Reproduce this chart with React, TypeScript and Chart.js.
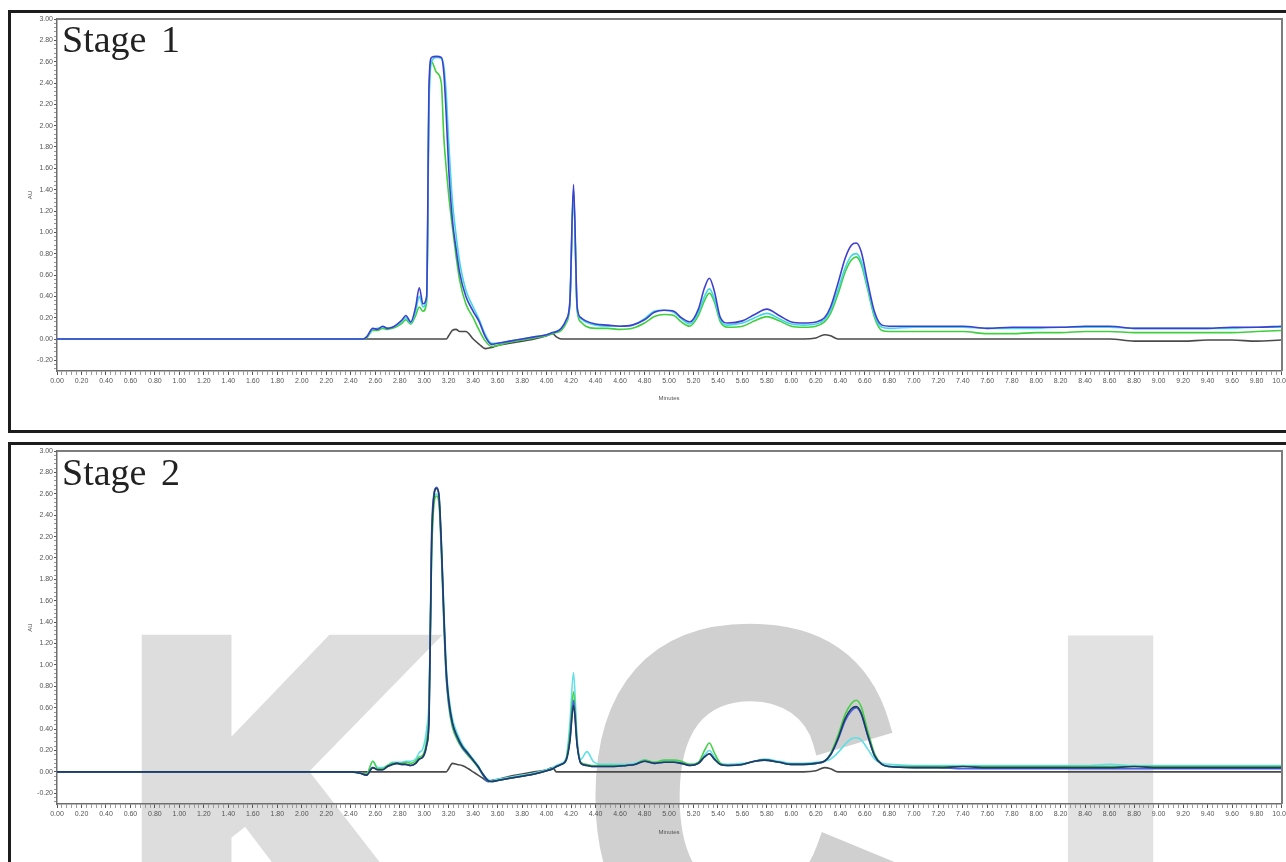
import React, { useEffect, useRef } from "react";
import { Chart, registerables } from "chart.js";

Chart.register(...registerables);

// ---------- axis tick labels ----------
const X_MAJOR = [
  0, 0.2, 0.4, 0.6, 0.8, 1.0, 1.2, 1.4, 1.6, 1.8, 2.0, 2.2, 2.4, 2.6, 2.8, 3.0, 3.2,
  3.4, 3.6, 3.8, 4.0, 4.2, 4.4, 4.6, 4.8, 5.0, 5.2, 5.4, 5.6, 5.8, 6.0, 6.2, 6.4,
  6.6, 6.8, 7.0, 7.2, 7.4, 7.6, 7.8, 8.0, 8.2, 8.4, 8.6, 8.8, 9.0, 9.2, 9.4, 9.6,
  9.8, 10.0,
];
const Y_MAJOR = [
  -0.2, 0, 0.2, 0.4, 0.6, 0.8, 1.0, 1.2, 1.4, 1.6, 1.8, 2.0, 2.2, 2.4, 2.6, 2.8, 3.0,
];

// ---------- Stage 1 ----------
const stage1Times = [
  0, 2.50, 2.53, 2.58, 2.62, 2.66, 2.70, 2.74, 2.78, 2.82,
  2.85, 2.89, 2.93, 2.96, 2.99, 3.02, 3.04, 3.06, 3.10, 3.14,
  3.16, 3.18, 3.20, 3.23, 3.26, 3.29, 3.34, 3.40, 3.45, 3.50,
  3.55, 3.60, 3.70, 3.80, 3.90, 4.00, 4.05, 4.08, 4.12, 4.16,
  4.19, 4.22, 4.25, 4.28, 4.32, 4.40, 4.50, 4.60, 4.70, 4.80,
  4.88, 4.96, 5.04, 5.10, 5.17, 5.24, 5.29, 5.33, 5.37, 5.42,
  5.48, 5.60, 5.70, 5.80, 5.90, 6.00, 6.10, 6.20, 6.27, 6.32,
  6.38, 6.44, 6.49, 6.53, 6.57, 6.62, 6.68, 6.74, 6.80, 7.00,
  7.20, 7.40, 7.60, 7.80, 8.00, 8.20, 8.40, 8.60, 8.80, 9.00,
  9.20, 9.40, 9.60, 9.80, 10.00,
];
const stage1Blue = [
  0, 0, 0.02, 0.10, 0.09, 0.12, 0.10, 0.11, 0.14, 0.18,
  0.22, 0.16, 0.30, 0.48, 0.33, 0.40, 2.40, 2.64, 2.65, 2.64,
  2.50, 2.10, 1.60, 1.12, 0.85, 0.62, 0.40, 0.26, 0.16, 0.02,
  -0.05, -0.04, -0.02, 0.00, 0.02, 0.04, 0.06, 0.07, 0.10, 0.18,
  0.35, 1.45, 0.30, 0.20, 0.17, 0.14, 0.13, 0.12, 0.13, 0.18,
  0.25, 0.27, 0.26, 0.20, 0.16, 0.28, 0.48, 0.57, 0.45, 0.20,
  0.15, 0.17, 0.23, 0.28, 0.22, 0.16, 0.15, 0.16, 0.20, 0.30,
  0.52, 0.76, 0.88, 0.90, 0.82, 0.55, 0.25, 0.13, 0.12, 0.12,
  0.12, 0.12, 0.10, 0.11, 0.11, 0.11, 0.12, 0.12, 0.10, 0.10,
  0.10, 0.10, 0.11, 0.11, 0.12,
];
const stage1Cyan = [
  0, 0, 0.02, 0.09, 0.10, 0.11, 0.10, 0.11, 0.13, 0.17,
  0.20, 0.15, 0.26, 0.40, 0.30, 0.38, 2.20, 2.60, 2.64, 2.63,
  2.56, 2.30, 1.85, 1.30, 0.98, 0.72, 0.46, 0.30, 0.18, 0.04,
  -0.04, -0.04, -0.02, 0.00, 0.02, 0.04, 0.06, 0.07, 0.10, 0.17,
  0.33, 1.40, 0.28, 0.19, 0.16, 0.13, 0.12, 0.12, 0.13, 0.19,
  0.26, 0.27, 0.25, 0.19, 0.14, 0.25, 0.40, 0.47, 0.38, 0.18,
  0.13, 0.15, 0.20, 0.24, 0.19, 0.14, 0.13, 0.14, 0.18, 0.27,
  0.46, 0.67, 0.78, 0.80, 0.73, 0.50, 0.22, 0.11, 0.10, 0.11,
  0.11, 0.11, 0.10, 0.10, 0.10, 0.11, 0.11, 0.11, 0.10, 0.10,
  0.10, 0.10, 0.10, 0.11, 0.11,
];
const stage1Green = [
  0, 0, 0.01, 0.08, 0.08, 0.10, 0.09, 0.10, 0.12, 0.15,
  0.18, 0.14, 0.22, 0.30, 0.26, 0.35, 2.30, 2.60, 2.50, 2.40,
  1.90, 1.60, 1.35, 1.05, 0.78, 0.55, 0.33, 0.20, 0.08, -0.02,
  -0.07, -0.06, -0.03, -0.01, 0.01, 0.03, 0.05, 0.06, 0.08, 0.15,
  0.32, 1.38, 0.26, 0.16, 0.12, 0.10, 0.10, 0.09, 0.10, 0.15,
  0.21, 0.23, 0.22, 0.16, 0.12, 0.22, 0.36, 0.43, 0.35, 0.16,
  0.11, 0.12, 0.17, 0.21, 0.17, 0.12, 0.11, 0.12, 0.16, 0.24,
  0.42, 0.63, 0.74, 0.77, 0.70, 0.48, 0.20, 0.08, 0.07, 0.07,
  0.07, 0.07, 0.05, 0.05, 0.06, 0.06, 0.07, 0.07, 0.06, 0.06,
  0.06, 0.06, 0.06, 0.07, 0.08,
];
const stage1Blank = [
  0, 0, 0, 0, 0, 0, 0, 0, 0, 0,
  0, 0, 0, 0, 0, 0, 0, 0, 0, 0,
  0, 0, 0.03, 0.08, 0.09, 0.07, 0.07, 0.00, -0.05, -0.09,
  -0.08, -0.06, -0.04, -0.02, 0.00, 0.03, 0.05, 0.02, 0, 0,
  0, 0, 0, 0, 0, 0, 0, 0, 0, 0,
  0, 0, 0, 0, 0, 0, 0, 0, 0, 0,
  0, 0, 0, 0, 0, 0, 0, 0.01, 0.04, 0.03,
  0, 0, 0, 0, 0, 0, 0, 0, 0, 0,
  0, 0, 0, 0, 0, 0, 0, 0, -0.02, -0.02,
  -0.02, -0.01, -0.01, -0.02, -0.01,
];

// ---------- Stage 2 ----------
const stage2Times = [
  0, 2.40, 2.47, 2.53, 2.58, 2.62, 2.66, 2.70, 2.74, 2.78,
  2.82, 2.85, 2.89, 2.93, 2.96, 2.99, 3.02, 3.04, 3.06, 3.08,
  3.10, 3.12, 3.14, 3.16, 3.18, 3.20, 3.23, 3.27, 3.31, 3.36,
  3.40, 3.44, 3.48, 3.52, 3.55, 3.60, 3.70, 3.80, 3.90, 4.00,
  4.05, 4.08, 4.12, 4.16, 4.19, 4.22, 4.25, 4.28, 4.33, 4.38,
  4.45, 4.55, 4.65, 4.72, 4.80, 4.88, 4.96, 5.04, 5.10, 5.17,
  5.24, 5.29, 5.33, 5.37, 5.42, 5.48, 5.60, 5.70, 5.78, 5.90,
  6.00, 6.10, 6.20, 6.27, 6.32, 6.38, 6.44, 6.49, 6.53, 6.57,
  6.62, 6.68, 6.74, 6.80, 7.00, 7.20, 7.40, 7.60, 7.80, 8.00,
  8.20, 8.40, 8.60, 8.80, 9.00, 9.20, 9.40, 9.60, 9.80, 10.00,
];
const stage2Blue = [
  0, 0, -0.01, -0.03, 0.04, 0.02, 0.02, 0.05, 0.07, 0.08,
  0.07, 0.07, 0.06, 0.08, 0.12, 0.14, 0.25, 0.55, 2.20, 2.60,
  2.66, 2.58, 2.10, 1.45, 0.90, 0.65, 0.45, 0.32, 0.23, 0.16,
  0.11, 0.05, -0.03, -0.09, -0.09, -0.08, -0.06, -0.04, -0.02, 0.01,
  0.03, 0.05, 0.07, 0.11, 0.30, 0.67, 0.25, 0.08, 0.06, 0.05,
  0.05, 0.05, 0.06, 0.07, 0.10, 0.08, 0.09, 0.09, 0.08, 0.06,
  0.08, 0.14, 0.17, 0.12, 0.07, 0.06, 0.07, 0.10, 0.11, 0.09,
  0.07, 0.07, 0.08, 0.10, 0.16, 0.30, 0.48, 0.57, 0.60, 0.54,
  0.35, 0.15, 0.07, 0.05, 0.04, 0.04, 0.03, 0.03, 0.03, 0.03,
  0.03, 0.03, 0.03, 0.03, 0.03, 0.03, 0.03, 0.03, 0.03, 0.03,
];
const stage2Navy = [
  0, 0, -0.01, -0.03, 0.04, 0.02, 0.02, 0.05, 0.07, 0.08,
  0.07, 0.07, 0.06, 0.08, 0.12, 0.14, 0.25, 0.50, 2.10, 2.58,
  2.65, 2.60, 2.15, 1.50, 0.95, 0.68, 0.46, 0.33, 0.24, 0.17,
  0.11, 0.05, -0.02, -0.08, -0.09, -0.08, -0.06, -0.04, -0.02, 0.01,
  0.03, 0.05, 0.07, 0.11, 0.28, 0.62, 0.24, 0.08, 0.06, 0.05,
  0.05, 0.05, 0.06, 0.07, 0.10, 0.08, 0.09, 0.09, 0.08, 0.06,
  0.08, 0.14, 0.17, 0.12, 0.07, 0.06, 0.07, 0.10, 0.11, 0.09,
  0.07, 0.07, 0.08, 0.10, 0.16, 0.31, 0.50, 0.59, 0.61, 0.55,
  0.36, 0.15, 0.07, 0.05, 0.04, 0.04, 0.05, 0.04, 0.04, 0.04,
  0.04, 0.04, 0.04, 0.05, 0.04, 0.04, 0.04, 0.04, 0.04, 0.04,
];
const stage2Cyan = [
  0, 0, -0.01, -0.02, 0.10, 0.04, 0.04, 0.06, 0.09, 0.09,
  0.09, 0.10, 0.10, 0.12, 0.18, 0.22, 0.40, 0.70, 2.00, 2.55,
  2.60, 2.55, 2.15, 1.55, 1.00, 0.72, 0.50, 0.36, 0.26, 0.18,
  0.12, 0.06, -0.02, -0.07, -0.08, -0.07, -0.05, -0.03, -0.01, 0.02,
  0.04, 0.06, 0.08, 0.13, 0.45, 0.93, 0.30, 0.12, 0.19, 0.10,
  0.07, 0.07, 0.07, 0.08, 0.11, 0.09, 0.10, 0.10, 0.09, 0.07,
  0.09, 0.16, 0.20, 0.14, 0.08, 0.07, 0.08, 0.10, 0.12, 0.10,
  0.08, 0.08, 0.09, 0.10, 0.12, 0.18, 0.26, 0.31, 0.32, 0.30,
  0.22, 0.12, 0.08, 0.07, 0.06, 0.06, 0.06, 0.06, 0.06, 0.06,
  0.06, 0.06, 0.07, 0.06, 0.06, 0.06, 0.06, 0.06, 0.06, 0.06,
];
const stage2Green = [
  0, 0, -0.01, -0.02, 0.10, 0.03, 0.03, 0.06, 0.08, 0.08,
  0.08, 0.09, 0.08, 0.10, 0.14, 0.16, 0.30, 0.60, 2.00, 2.50,
  2.58, 2.52, 2.05, 1.40, 0.88, 0.62, 0.42, 0.30, 0.22, 0.15,
  0.10, 0.04, -0.03, -0.09, -0.09, -0.08, -0.06, -0.04, -0.02, 0.01,
  0.03, 0.05, 0.07, 0.12, 0.36, 0.75, 0.27, 0.09, 0.07, 0.06,
  0.06, 0.06, 0.06, 0.07, 0.11, 0.09, 0.11, 0.11, 0.10, 0.07,
  0.09, 0.20, 0.27, 0.18, 0.08, 0.06, 0.07, 0.10, 0.11, 0.09,
  0.07, 0.07, 0.08, 0.10, 0.17, 0.34, 0.54, 0.64, 0.67, 0.61,
  0.40, 0.17, 0.07, 0.05, 0.05, 0.05, 0.05, 0.05, 0.05, 0.05,
  0.05, 0.05, 0.05, 0.05, 0.05, 0.05, 0.05, 0.05, 0.05, 0.05,
];
const stage2Blank = [
  0, 0, 0, 0, 0, 0, 0, 0, 0, 0,
  0, 0, 0, 0, 0, 0, 0, 0, 0, 0,
  0, 0, 0, 0, 0, 0.03, 0.08, 0.07, 0.06, 0.03,
  0.00, -0.03, -0.06, -0.09, -0.08, -0.07, -0.04, -0.02, 0.00, 0.02,
  0.04, 0.00, 0, 0, 0, 0, 0, 0, 0, 0,
  0, 0, 0, 0, 0, 0, 0, 0, 0, 0,
  0, 0, 0, 0, 0, 0, 0, 0, 0, 0,
  0, 0, 0.01, 0.04, 0.03, 0, 0, 0, 0, 0,
  0, 0, 0, 0, 0, 0, 0, 0, 0, 0,
  0, 0, 0, 0, 0, 0, 0, 0, 0, 0,
];

const WATERMARK = [
  { ch: "K", left: 139, top: 630, width: 292, height: 318, lw: 8.5, color: "#dddddd" },
  { ch: "C", left: 595, top: 623, width: 300, height: 350, lw: 5.6, color: "#d0d0d0" },
  { ch: "I", left: 1065, top: 630, width: 92, height: 350, lw: 6, color: "#e2e2e2" },
];

const FONT = "'Liberation Sans', Arial, sans-serif";

function buildMinor(step: number, from: number, to: number): number[] {
  const out: number[] = [];
  const n = Math.round((to - from) / step);
  for (let i = 0; i <= n; i++) out.push(Math.round((from + i * step) * 1000) / 1000);
  return out;
}
const X_TICKS = buildMinor(0.04, 0, 10);
const Y_TICKS = buildMinor(0.04, -0.28, 3.0);
const isMajorX = (v: number) => X_MAJOR.some((m) => Math.abs(m - v) < 1e-6);
const isMajorY = (v: number) => Y_MAJOR.some((m) => Math.abs(m - v) < 1e-6);

type Series = { values: number[]; color: string };

function buildConfig(
  times: number[],
  series: Series[],
  o: { top: number; xHeight: number; titlePad: number; label: string; labelY: number; watermarkOffset?: number }
): any {
  const framePlugin = {
    id: "frame",
    beforeDraw(chart: any) {
      if (o.watermarkOffset === undefined) return;
      const ctx = chart.ctx;
      ctx.save();
      for (const w of WATERMARK) {
        ctx.save();
        ctx.font = `bold 100px ${FONT}`;
        const m = ctx.measureText(w.ch);
        const gw = m.actualBoundingBoxLeft + m.actualBoundingBoxRight + w.lw;
        const gh = m.actualBoundingBoxAscent + m.actualBoundingBoxDescent + w.lw;
        ctx.translate(w.left, w.top - o.watermarkOffset);
        ctx.scale(w.width / gw, w.height / gh);
        ctx.fillStyle = w.color;
        ctx.strokeStyle = w.color;
        ctx.lineWidth = w.lw;
        ctx.lineJoin = "miter";
        const tx = m.actualBoundingBoxLeft + w.lw / 2;
        const ty = m.actualBoundingBoxAscent + w.lw / 2;
        ctx.fillText(w.ch, tx, ty);
        ctx.strokeText(w.ch, tx, ty);
        ctx.restore();
      }
      ctx.restore();
    },
    afterDraw(chart: any) {
      const { ctx, chartArea } = chart;
      const { left, top, right, bottom } = chartArea;
      ctx.save();
      ctx.strokeStyle = "#7d7d7d";
      ctx.lineWidth = 2;
      ctx.beginPath();
      ctx.moveTo(left, top);
      ctx.lineTo(right + 1, top);
      ctx.lineTo(right + 1, bottom);
      ctx.stroke();
      ctx.fillStyle = "#222";
      ctx.font = "38px 'Liberation Serif', 'Times New Roman', serif";
      try {
        (ctx as any).wordSpacing = "5px";
      } catch (e) {}
      ctx.textBaseline = "alphabetic";
      ctx.textAlign = "left";
      ctx.fillText(o.label, 62, o.labelY);
      ctx.restore();
    },
  };

  return {
    type: "line",
    data: {
      datasets: series.map((s) => ({
        data: times.map((t, i) => ({ x: t, y: s.values[i] })),
        borderColor: s.color,
        backgroundColor: s.color,
        borderWidth: 1.6,
        pointRadius: 0,
        fill: false,
        cubicInterpolationMode: "monotone",
      })),
    },
    options: {
      animation: false,
      responsive: false,
      maintainAspectRatio: false,
      layout: { padding: { left: 0, right: 5, top: o.top, bottom: 0 } },
      plugins: { legend: { display: false }, tooltip: { enabled: false }, title: { display: false } },
      scales: {
        x: {
          type: "linear",
          min: 0,
          max: 10,
          afterBuildTicks: (s: any) => {
            s.ticks = X_TICKS.map((v) => ({ value: v }));
          },
          afterFit: (s: any) => {
            s.height = o.xHeight;
            s.paddingLeft = 0;
            s.paddingRight = 0;
          },
          ticks: {
            autoSkip: false,
            maxRotation: 0,
            minRotation: 0,
            padding: 2,
            color: "#555",
            font: { size: 7, family: FONT },
            callback: (v: any) => (isMajorX(Number(v)) ? Number(v).toFixed(2) : ""),
          },
          grid: {
            drawOnChartArea: false,
            drawTicks: true,
            tickLength: 4,
            tickWidth: 1,
            tickColor: (c: any) => (c.tick && isMajorX(c.tick.value) ? "#555" : "#9a9a9a"),
          },
          border: { display: true, color: "#6e6e6e", width: 1.5 },
          title: {
            display: true,
            text: "Minutes",
            color: "#555",
            font: { size: 6, family: FONT },
            padding: { top: 0, bottom: o.titlePad },
          },
        },
        y: {
          type: "linear",
          min: -0.3,
          max: 3.0,
          afterBuildTicks: (s: any) => {
            s.ticks = Y_TICKS.map((v) => ({ value: v }));
          },
          afterFit: (s: any) => {
            s.width = 57;
            s.paddingTop = 0;
            s.paddingBottom = 0;
          },
          ticks: {
            autoSkip: false,
            padding: 1,
            color: "#555",
            font: { size: 7, family: FONT },
            callback: (v: any) => (isMajorY(Number(v)) ? Number(v).toFixed(2) : ""),
          },
          grid: {
            drawOnChartArea: false,
            drawTicks: true,
            tickLength: 3,
            tickWidth: 1,
            tickColor: (c: any) => (c.tick && isMajorY(c.tick.value) ? "#555" : "#9a9a9a"),
          },
          border: { display: true, color: "#6e6e6e", width: 1.5 },
          title: {
            display: true,
            text: "AU",
            color: "#444",
            font: { size: 6, family: FONT },
            padding: { top: 27, bottom: 0 },
          },
        },
      },
    },
    plugins: [framePlugin],
  };
}

export default function App() {
  const topRef = useRef<HTMLCanvasElement>(null);
  const botRef = useRef<HTMLCanvasElement>(null);

  useEffect(() => {
    const c1 = new Chart(
      topRef.current as HTMLCanvasElement,
      buildConfig(
        stage1Times,
        [
          { values: stage1Blue, color: "#3f3fcf" },
          { values: stage1Cyan, color: "#45d6e6" },
          { values: stage1Green, color: "#3fcf3f" },
          { values: stage1Blank, color: "#4a4a4a" },
        ],
        { top: 19, xHeight: 65, titlePad: 34, label: "Stage 1", labelY: 52 }
      )
    );
    const c2 = new Chart(
      botRef.current as HTMLCanvasElement,
      buildConfig(
        stage2Times,
        [
          { values: stage2Navy, color: "#1d3d63" },
          { values: stage2Blue, color: "#4a5ee6" },
          { values: stage2Green, color: "#48d048" },
          { values: stage2Cyan, color: "#5fe0e6" },
          { values: stage2Blank, color: "#4a4a4a" },
        ],
        { top: 15, xHeight: 58, titlePad: 26, label: "Stage 2", labelY: 49, watermarkOffset: 436 }
      )
    );
    return () => {
      c1.destroy();
      c2.destroy();
    };
  }, []);

  return (
    <div
      style={{
        position: "fixed",
        left: 0,
        top: 0,
        width: 1286,
        height: 862,
        overflow: "hidden",
        background: "#fff",
      }}
    >
      <div
        style={{
          position: "absolute",
          left: 8,
          top: 10,
          width: 1300,
          height: 423,
          border: "3px solid #1c1c1c",
          boxSizing: "border-box",
        }}
      />
      <div
        style={{
          position: "absolute",
          left: 8,
          top: 442,
          width: 1300,
          height: 500,
          border: "3px solid #1c1c1c",
          boxSizing: "border-box",
        }}
      />
      <canvas
        ref={topRef}
        width={1286}
        height={436}
        style={{ position: "absolute", left: 0, top: 0, width: 1286, height: 436, display: "block" }}
      />
      <canvas
        ref={botRef}
        width={1286}
        height={426}
        style={{ position: "absolute", left: 0, top: 436, width: 1286, height: 426, display: "block" }}
      />
    </div>
  );
}
